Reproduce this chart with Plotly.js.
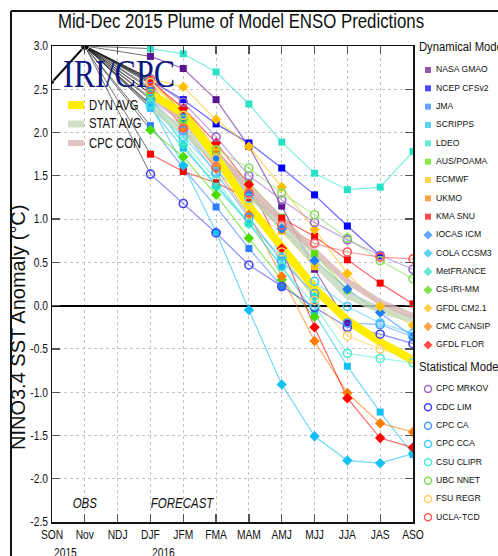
<!DOCTYPE html>
<html>
<head>
<meta charset="utf-8">
<script src="https://cdn.plot.ly/plotly-3.0.1.min.js"></script>
<style>
  html, body { margin: 0; padding: 0; background: #fff; }
  #chart { width: 498px; height: 556px; }
</style>
</head>
<body>
<div id="chart"></div>
<script>
// ---------------- data ----------------
const seasons = ['SON','Nov','NDJ','DJF','JFM','FMA','MAM','AMJ','MJJ','JJA','JAS','ASO'];
const obsSeasons = ['SON','Nov'];
const obsValues = [2.58, 3.0];
const leadSeasons = ['DJF','JFM','FMA','MAM','AMJ','MJJ','JJA','JAS','ASO'];

// Dynamical models
const nasaGmao   = [2.88, 2.74, 2.38, 1.84, 1.15, 0.42, -0.20, null, null];
const ncepCfsv2  = [2.60, 2.38, 2.10, 1.88, 1.59, 1.28, 0.92, 0.58, null];
const jma        = [2.08, 1.59, 1.14, 0.66, 0.22, null, null, null, null];
const scripps    = [2.28, 1.82, 1.40, 0.95, 0.45, -0.09, -0.70, -1.23, -1.72];
const ldeo       = [2.97, 2.91, 2.70, 2.33, 1.89, 1.53, 1.34, 1.37, 1.78];
const ausPoama   = [2.45, 2.14, 1.78, 1.42, 1.02, 0.60, 0.18, null, null];
const ecmwf      = [2.56, 2.28, 1.82, 1.33, 0.86, 0.45, null, null, null];
const ukmo       = [2.62, 2.22, 1.75, 1.30, 0.88, null, null, null, null];
const kmaSnu     = [1.75, 1.55, 1.42, 1.24, 1.01, 0.80, 0.53, 0.26, 0.02];
const iocasIcm   = [2.52, 2.18, 1.70, 1.28, 0.89, 0.52, 0.19, -0.08, -0.36];
const colaCcsm3  = [2.32, 1.62, 0.85, -0.05, -0.91, -1.51, -1.79, -1.82, -1.71];
const metFrance  = [2.40, 1.86, 1.37, 0.95, 0.56, 0.10, null, null, null];
const csIriMm    = [2.03, 1.72, 1.28, 0.78, 0.30, -0.13, null, null, null];
const gfdlCm21   = [2.62, 2.53, 2.15, 1.84, 1.37, 0.88, 0.37, -0.01, -0.23];
const cmcCansip  = [2.58, 2.05, 1.58, 1.05, 0.34, -0.41, -1.01, -1.36, -1.46];
const gfdlFlor   = [2.60, 2.28, 1.88, 1.40, 0.66, -0.25, -1.07, -1.53, -1.64];

// Statistical models
const cpcMrkov   = [2.62, 2.35, 1.95, 1.50, 1.22, 0.96, 0.76, 0.58, 0.42];
const cdcLim     = [1.52, 1.18, 0.84, 0.47, 0.22, -0.02, -0.25, -0.33, -0.44];
const cpcCa      = [2.38, 2.02, 1.53, 1.02, 0.51, 0.14, -0.20, -0.22, -0.36];
const cpcCca     = [2.30, 1.95, 1.55, 1.24, 0.56, 0.28, -0.01, -0.20, -0.32];
const csuClipr   = [2.33, 1.90, 1.45, 0.95, 0.45, 0.00, -0.55, -0.61, -0.66];
const ubcNnet    = [2.45, 2.15, 1.80, 1.59, 1.30, 1.05, 0.78, 0.52, 0.31];
const fsuRegr    = [2.58, 2.20, 1.70, 1.20, 0.62, 0.06, -0.35, -0.50, -0.62];
const uclaTcd    = [2.50, 2.05, 1.60, 1.30, 0.93, 0.72, 0.62, 0.56, 0.54];

// Averages
const dynAvg  = [2.45, 2.22, 1.72, 1.15, 0.68, 0.20, -0.17, -0.42, -0.63];
const statAvg = [2.30, 2.02, 1.68, 1.30, 0.92, 0.50, 0.12, -0.05, -0.16];
const cpcCon  = [2.42, 2.14, 1.75, 1.36, 0.99, 0.63, 0.28, 0.04, -0.12];

const dynNames = ['NASA GMAO','NCEP CFSv2','JMA','SCRIPPS','LDEO','AUS/POAMA','ECMWF','UKMO','KMA SNU',
                  'IOCAS ICM','COLA CCSM3','MetFRANCE','CS-IRI-MM','GFDL CM2.1','CMC CANSIP','GFDL FLOR'];
const dynValues = [nasaGmao, ncepCfsv2, jma, scripps, ldeo, ausPoama, ecmwf, ukmo, kmaSnu,
                   iocasIcm, colaCcsm3, metFrance, csIriMm, gfdlCm21, cmcCansip, gfdlFlor];
const statNames = ['CPC MRKOV','CDC LIM','CPC CA','CPC CCA','CSU CLIPR','UBC NNET','FSU REGR','UCLA-TCD'];
const statValues = [cpcMrkov, cdcLim, cpcCa, cpcCca, csuClipr, ubcNnet, fsuRegr, uclaTcd];
const avgNames = ['DYN AVG','STAT AVG','CPC CON'];
const avgValues = [dynAvg, statAvg, cpcCon];

const yTickVals = [-2.5,-2.0,-1.5,-1.0,-0.5,0.0,0.5,1.0,1.5,2.0,2.5,3.0];
const yTickText = ['-2.5','-2.0','-1.5','-1.0','-0.5','0.0','0.5','1.0','1.5','2.0','2.5','3.0'];

// ---------------- styles ----------------
const dynColors = ['#5a1490','#0000ff','#2a7fff','#12bff0','#26e2c6','#58e000','#ffc000','#ff7c00','#ff0000',
                   '#1e80ff','#14c0f2','#26e2c6','#48dc00','#ffc000','#ff7c00','#ff0000'];
const dynSymbols = ['square','square','square','square','square','square','square','square','square',
                    'diamond','diamond','diamond','diamond','diamond','diamond','diamond'];
const statColors = ['#9c68cc','#4242f0','#4a98ff','#46c8ff','#4cecd4','#84dc58','#ffcf60','#ff5a5a'];
const avgColors = ['rgba(255,238,0,1)','rgba(196,216,186,0.8)','rgba(216,180,180,0.8)'];
const avgWidths = [8, 7, 6];

const SANS = "'Liberation Sans', Arial, sans-serif";
const SQUEEZE = 0.82;   // the reference uses a condensed Helvetica
const LEGEND_SQUEEZE = 0.9;

function rgba(hex, a) {
  const n = parseInt(hex.slice(1), 16);
  return `rgba(${(n >> 16) & 255},${(n >> 8) & 255},${n & 255},${a})`;
}

const traces = [];

// fan of thin lines from last observation to each model's first lead
const allValues = dynValues.concat(statValues);
const fanX = [], fanY = [];
allValues.forEach(v => { fanX.push(obsSeasons[obsSeasons.length - 1], leadSeasons[0], null);
                         fanY.push(obsValues[obsValues.length - 1], v[0], null); });
traces.push({ x: fanX, y: fanY, mode: 'lines', line: { color: 'rgba(30,30,30,0.8)', width: 0.8 },
              hoverinfo: 'skip', showlegend: false });

// model lines
dynValues.forEach((v, i) => traces.push({ x: leadSeasons, y: v, mode: 'lines',
  line: { color: rgba(dynColors[i], 0.6), width: 1.2 }, showlegend: false }));
statValues.forEach((v, i) => traces.push({ x: leadSeasons, y: v, mode: 'lines',
  line: { color: rgba(statColors[i], 0.6), width: 1.2 }, showlegend: false }));

// averages (stat + con first, dyn on top)
[1, 2, 0].forEach(k => traces.push({ x: leadSeasons, y: avgValues[k], mode: 'lines', name: avgNames[k],
  line: { color: avgColors[k], width: avgWidths[k] }, showlegend: false }));

// model markers
dynValues.forEach((v, i) => traces.push({ x: leadSeasons, y: v, mode: 'markers', name: dynNames[i],
  marker: { symbol: dynSymbols[i], color: dynColors[i], size: dynSymbols[i] === 'square' ? 7 : 8,
            line: { width: 0 } }, showlegend: false }));
statValues.forEach((v, i) => traces.push({ x: leadSeasons, y: v, mode: 'markers', name: statNames[i],
  marker: { symbol: 'circle-open', color: statColors[i], size: 8, line: { width: 1.6, color: statColors[i] } },
  showlegend: false }));

// observations
traces.push({ x: obsSeasons, y: obsValues, mode: 'lines+markers', name: 'OBS',
  line: { color: '#000', width: 2 }, marker: { color: '#000', size: [5, 9] }, showlegend: false });

// ---------------- right-hand legend on its own pixel-like axes ----------------
const dynHeaderY = 48, dynFirstY = 70, stepY = 18.33, statHeaderY = 368, statFirstY = 389;
const markX = 9, textX = 17;
const dynLegY = dynNames.map((_, i) => dynFirstY + i * stepY);
const statLegY = statNames.map((_, i) => statFirstY + i * stepY);
traces.push({ x: dynNames.map(() => markX), y: dynLegY, xaxis: 'x2', yaxis: 'y2', mode: 'markers',
  marker: { symbol: dynSymbols, color: dynColors, size: dynSymbols.map(s => s === 'square' ? 6 : 7), line: { width: 0 } },
  hoverinfo: 'skip', showlegend: false, cliponaxis: false });
traces.push({ x: statNames.map(() => markX), y: statLegY, xaxis: 'x2', yaxis: 'y2', mode: 'markers',
  marker: { symbol: 'circle-open', color: statColors, size: 7, line: { width: 1.5, color: statColors } },
  hoverinfo: 'skip', showlegend: false, cliponaxis: false });
traces.push({ x: dynNames.concat(statNames).map(() => textX), y: dynLegY.concat(statLegY),
  text: dynNames.concat(statNames), xaxis: 'x2', yaxis: 'y2', mode: 'text', textposition: 'middle right',
  textfont: { family: SANS, size: 9.6, color: '#111' }, hoverinfo: 'skip', showlegend: false, cliponaxis: false });
traces.push({ x: [0, 0], y: [dynHeaderY, statHeaderY], text: ['Dynamical Models', 'Statistical Models'],
  xaxis: 'x2', yaxis: 'y2', mode: 'text', textposition: 'middle right',
  textfont: { family: SANS, size: 12.5, color: '#111' }, hoverinfo: 'skip', showlegend: false, cliponaxis: false });

// ---------------- layout ----------------
const W = 498, H = 556, L = 52, T = 46, PR = 413, PB = 522;
const pw = W - L, ph = PB - T;
const px = x => (x - L) / pw;        // pixel -> paper x
const py = y => (PB - y) / ph;       // pixel -> paper y

const avgLegendY = [105, 124, 143];
const shapes = [
  // outer figure frame (left and top edges)
  { type: 'line', xref: 'paper', yref: 'paper', x0: px(11), x1: px(11), y0: py(11), y1: py(570),
    line: { color: '#111', width: 2 } },
  { type: 'line', xref: 'paper', yref: 'paper', x0: px(11), x1: px(510), y0: py(11), y1: py(11),
    line: { color: '#111', width: 2 } }
];
avgNames.forEach((n, k) => shapes.push({ type: 'line', xref: 'paper', yref: 'paper',
  x0: px(68), x1: px(84), y0: py(avgLegendY[k]), y1: py(avgLegendY[k]),
  line: { color: avgColors[k], width: avgWidths[k] } }));

const annotations = [
  { text: 'IRI/CPC', xref: 'paper', yref: 'paper', x: px(119), y: py(73), xanchor: 'center', yanchor: 'middle',
    showarrow: false, font: { family: "'Liberation Serif', 'DejaVu Serif', serif", size: 40, color: '#0c1a7e' } },
  { text: 'NINO3.4 SST Anomaly (°C)', xref: 'paper', yref: 'paper', x: px(18), y: py(328), textangle: -90,
    xanchor: 'center', yanchor: 'middle', showarrow: false, font: { family: SANS, size: 20, color: '#111' } },
  { text: 'OBS', xref: 'x', yref: 'paper', x: 'Nov', y: py(503), xanchor: 'center', yanchor: 'middle',
    showarrow: false, font: { family: SANS, size: 14, color: '#111', style: 'italic' } },
  { text: 'FORECAST', xref: 'x', yref: 'paper', x: 'JFM', y: py(503), xanchor: 'center', yanchor: 'middle',
    showarrow: false, font: { family: SANS, size: 14, color: '#111', style: 'italic' } },
  { text: '2015', xref: 'x', yref: 'paper', x: 'SON', y: py(553), xanchor: 'left', yanchor: 'middle', align: 'left',
    showarrow: false, font: { family: SANS, size: 12.5, color: '#111' } },
  { text: '2016', xref: 'x', yref: 'paper', x: 'DJF', y: py(553), xanchor: 'left', yanchor: 'middle', align: 'left',
    showarrow: false, font: { family: SANS, size: 12.5, color: '#111' } }
];
avgNames.forEach((n, k) => annotations.push({ text: n, xref: 'paper', yref: 'paper', x: px(87), y: py(avgLegendY[k]),
  xanchor: 'left', yanchor: 'middle', align: 'left', showarrow: false, font: { family: SANS, size: 13.8, color: '#111' } }));

const layout = {
  width: W, height: H,
  margin: { l: L, r: 0, t: T, b: H - PB, pad: 0 },
  paper_bgcolor: '#fff', plot_bgcolor: '#fff',
  showlegend: false,
  title: { text: 'Mid-Dec 2015 Plume of Model ENSO Predictions', xref: 'container', yref: 'container',
           x: 241 / W, y: 1 - 21 / H, xanchor: 'center', yanchor: 'middle',
           font: { family: SANS, size: 20.5, color: '#111' } },
  xaxis: { type: 'category', categoryarray: seasons, categoryorder: 'array', range: [0, seasons.length - 1],
           domain: [0, px(PR)], anchor: 'y',
           showline: true, linecolor: '#111', linewidth: 1.5, mirror: 'ticks',
           ticks: 'inside', ticklen: 8, tickwidth: 1.2, tickcolor: '#555',
           showgrid: true, gridcolor: '#c4c4c4', griddash: 'dot', gridwidth: 1, zeroline: false,
           tickfont: { family: SANS, size: 12.5, color: '#111' } },
  yaxis: { range: [-2.5, 3.0], domain: [0, 1], anchor: 'x', tickvals: yTickVals, ticktext: yTickText,
           showline: true, linecolor: '#111', linewidth: 1.5, mirror: 'ticks',
           ticks: 'inside', ticklen: 8, tickwidth: 1.2, tickcolor: '#555',
           showgrid: true, gridcolor: '#c4c4c4', griddash: 'dot', gridwidth: 1,
           zeroline: true, zerolinecolor: '#000', zerolinewidth: 2,
           tickfont: { family: SANS, size: 12.5, color: '#111' } },
  xaxis2: { domain: [px(419), 1], range: [0, W - 419], anchor: 'y2', visible: false, fixedrange: true },
  yaxis2: { domain: [0, 1], range: [PB, T], anchor: 'x2', visible: false, fixedrange: true },
  shapes: shapes,
  annotations: annotations
};

function squeeze(el, factor) {
  const len = el.getComputedTextLength();
  if (len > 0) {
    el.setAttribute('textLength', (len * factor).toFixed(2));
    el.setAttribute('lengthAdjust', 'spacingAndGlyphs');
  }
}

Plotly.newPlot('chart', traces, layout, { staticPlot: true, displayModeBar: false }).then(gd => {
  gd.querySelectorAll('text.annotation-text').forEach(t => {
    if (t.textContent === 'IRI/CPC') {
      t.setAttribute('textLength', '112');
      t.setAttribute('lengthAdjust', 'spacingAndGlyphs');
    } else if (t.textContent.indexOf('NINO') !== 0) {
      squeeze(t, SQUEEZE);
    }
  });
  gd.querySelectorAll('.xtick text, .ytick text, .gtitle').forEach(t => squeeze(t, SQUEEZE));
  gd.querySelectorAll('.textpoint text').forEach(t => squeeze(t, LEGEND_SQUEEZE));
});
</script>
</body>
</html>
